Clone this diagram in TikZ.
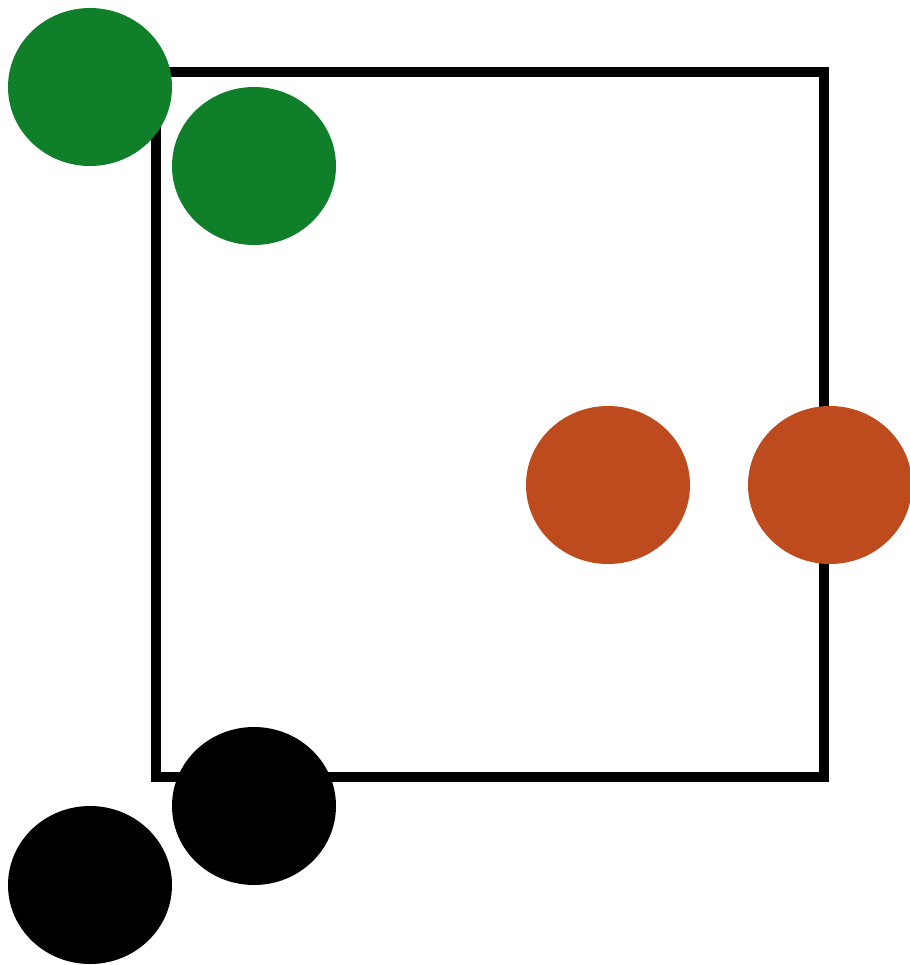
\documentclass[tikz,border=0pt]{standalone}
\usepackage{tikz}

\definecolor{dotgreen}{HTML}{0F7F2A}
\definecolor{dotorange}{HTML}{BE4B1E}

\begin{document}
\begin{tikzpicture}[x=0.02cm,y=-0.02cm,
    frame/.style={draw=black,line width=0.2cm,line join=miter},
    dot/.style={fill=#1}]
    % Canvas
    \useasboundingbox (0,0) rectangle (910,965);

    % Square
    \draw[frame] (156,72) rectangle (823.5,777);

    % Green pair (top left)
    \fill[dot=dotgreen] (90,87) ellipse (82 and 79);
    \fill[dot=dotgreen] (254,166) ellipse (82 and 79);

    % Orange pair (right)
    \fill[dot=dotorange] (608,485) ellipse (82 and 79);
    \fill[dot=dotorange] (830,485) ellipse (82 and 79);

    % Black pair (bottom left)
    \fill[dot=black] (254,806) ellipse (82 and 79);
    \fill[dot=black] (90,885) ellipse (82 and 79);
\end{tikzpicture}
\end{document}
